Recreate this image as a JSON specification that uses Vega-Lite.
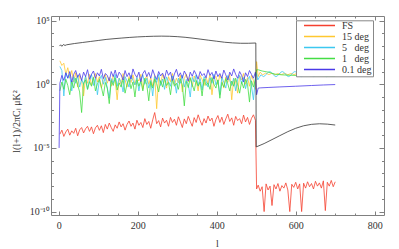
{
"$schema": "https://vega.github.io/schema/vega-lite/v6.json",
"width": 333, "height": 199,
"autosize": "none",
"padding": {"left": 51, "top": 16, "right": 15, "bottom": 34},
"background": "white",
"config": {
  "view": {"stroke": null},
  "font": "Liberation Serif",
  "axis": {"domainColor": "#808080", "domainWidth": 1, "tickColor": "#808080", "tickWidth": 1, "grid": false, "labelFont": "Liberation Serif", "labelFontSize": 10, "labelColor": "#333333", "titleFont": "Liberation Serif", "titleFontSize": 10, "titleColor": "#333333", "titleFontWeight": "normal", "labelFlush": false, "labelOverlap": false},
  "legend": {"labelFont": "Liberation Serif", "labelFontSize": 10, "labelColor": "#333333", "strokeColor": "#888888", "fillColor": "white", "padding": 1, "clipHeight": 8.6, "rowPadding": 0, "symbolOffset": 6, "labelOffset": 6, "symbolSize": 961}
},
"datasets": {
"blk": [{"l":2,"v":1000},{"l":5,"v":1260},{"l":8,"v":955},{"l":12,"v":1320},{"l":16,"v":1120},{"l":20,"v":1260},{"l":40,"v":1585},{"l":60,"v":1905},{"l":80,"v":2290},{"l":100,"v":2750},{"l":120,"v":3310},{"l":140,"v":3800},{"l":160,"v":4270},{"l":180,"v":4790},{"l":200,"v":5250},{"l":220,"v":5620},{"l":240,"v":5890},{"l":260,"v":6030},{"l":280,"v":5890},{"l":300,"v":5500},{"l":320,"v":4900},{"l":340,"v":4170},{"l":360,"v":3470},{"l":380,"v":2880},{"l":400,"v":2400},{"l":420,"v":2000},{"l":440,"v":1780},{"l":460,"v":1660},{"l":480,"v":1660},{"l":499,"v":1740},{"l":500,"v":1.2e-5},{"l":520,"v":2.2e-5},{"l":540,"v":4.5e-5},{"l":560,"v":9.3e-5},{"l":580,"v":1.9e-4},{"l":600,"v":3.5e-4},{"l":620,"v":5.5e-4},{"l":640,"v":7.1e-4},{"l":660,"v":7.9e-4},{"l":680,"v":7.4e-4},{"l":700,"v":6.3e-4}],
"fs": [{"l":3,"FS":1.2e-4},{"l":8,"FS":2.5e-4},{"l":13,"FS":8e-5},{"l":18,"FS":1.8e-4},{"l":23,"FS":3e-4},{"l":28,"FS":1e-4},{"l":33,"FS":2.2e-4},{"l":38,"FS":1.4e-4},{"l":43,"FS":3.5e-4},{"l":48,"FS":9e-5},{"l":53,"FS":2.6e-4},{"l":58,"FS":4e-4},{"l":63,"FS":1.5e-4},{"l":68,"FS":3.2e-4},{"l":73,"FS":5e-4},{"l":78,"FS":2e-4},{"l":83,"FS":4.5e-4},{"l":88,"FS":1.3e-4},{"l":93,"FS":3.8e-4},{"l":98,"FS":6e-4},{"l":103,"FS":2.4e-4},{"l":108,"FS":5.5e-4},{"l":113,"FS":1.6e-4},{"l":118,"FS":7e-4},{"l":123,"FS":3e-4},{"l":128,"FS":9e-4},{"l":133,"FS":4e-4},{"l":138,"FS":2e-4},{"l":143,"FS":6.5e-4},{"l":148,"FS":3.5e-4},{"l":153,"FS":1.1e-3},{"l":158,"FS":4.5e-4},{"l":163,"FS":8e-4},{"l":168,"FS":2.5e-4},{"l":173,"FS":7e-4},{"l":178,"FS":1.3e-3},{"l":183,"FS":5e-4},{"l":188,"FS":9e-4},{"l":193,"FS":3e-4},{"l":198,"FS":1.5e-3},{"l":203,"FS":6e-4},{"l":208,"FS":1e-3},{"l":213,"FS":4e-4},{"l":218,"FS":2e-3},{"l":223,"FS":7e-4},{"l":228,"FS":1.2e-3},{"l":233,"FS":3.5e-4},{"l":238,"FS":1.6e-3},{"l":243,"FS":6e-3},{"l":248,"FS":8e-4},{"l":253,"FS":1.4e-3},{"l":258,"FS":4.5e-4},{"l":263,"FS":2.2e-3},{"l":268,"FS":9e-4},{"l":273,"FS":1.5e-3},{"l":278,"FS":5e-4},{"l":283,"FS":2.5e-3},{"l":288,"FS":1e-3},{"l":293,"FS":1.8e-3},{"l":298,"FS":6e-4},{"l":303,"FS":2.8e-3},{"l":308,"FS":1.1e-3},{"l":313,"FS":4e-4},{"l":318,"FS":1.9e-3},{"l":323,"FS":8e-4},{"l":328,"FS":3e-3},{"l":333,"FS":1.2e-3},{"l":338,"FS":5e-4},{"l":343,"FS":2.4e-3},{"l":348,"FS":1e-3},{"l":353,"FS":4e-3},{"l":358,"FS":1.4e-3},{"l":363,"FS":6e-4},{"l":368,"FS":2e-3},{"l":373,"FS":9e-4},{"l":378,"FS":3.2e-3},{"l":383,"FS":1.3e-3},{"l":388,"FS":2.2e-3},{"l":393,"FS":5e-4},{"l":398,"FS":1.7e-3},{"l":403,"FS":3.5e-3},{"l":408,"FS":1e-3},{"l":413,"FS":2.6e-3},{"l":418,"FS":7e-4},{"l":423,"FS":1.9e-3},{"l":428,"FS":4.5e-3},{"l":433,"FS":1.2e-3},{"l":438,"FS":2.3e-3},{"l":443,"FS":6e-4},{"l":448,"FS":3e-3},{"l":453,"FS":1.4e-3},{"l":458,"FS":2e-3},{"l":463,"FS":8e-4},{"l":468,"FS":3.8e-3},{"l":473,"FS":1.1e-3},{"l":478,"FS":2.5e-3},{"l":483,"FS":7e-4},{"l":488,"FS":2.1e-3},{"l":493,"FS":4e-3},{"l":498,"FS":1.5e-3},{"l":501,"FS":6e-9},{"l":505,"FS":1.2e-8},{"l":510,"FS":4e-9},{"l":515,"FS":9e-9},{"l":520,"FS":1e-10},{"l":525,"FS":1.5e-8},{"l":530,"FS":5e-9},{"l":535,"FS":1e-8},{"l":540,"FS":3e-10},{"l":545,"FS":1.3e-8},{"l":550,"FS":6e-9},{"l":555,"FS":1.6e-8},{"l":560,"FS":4e-9},{"l":565,"FS":1.1e-8},{"l":570,"FS":7e-9},{"l":575,"FS":1.8e-8},{"l":580,"FS":5e-9},{"l":585,"FS":1e-10},{"l":590,"FS":1.4e-8},{"l":595,"FS":8e-9},{"l":600,"FS":2e-8},{"l":605,"FS":6e-9},{"l":610,"FS":1.5e-8},{"l":615,"FS":1e-10},{"l":620,"FS":1.7e-8},{"l":625,"FS":7e-9},{"l":630,"FS":2.2e-8},{"l":635,"FS":9e-9},{"l":640,"FS":1.6e-8},{"l":645,"FS":6e-9},{"l":650,"FS":2.4e-8},{"l":655,"FS":1e-8},{"l":660,"FS":1.8e-8},{"l":665,"FS":7e-9},{"l":670,"FS":2.6e-8},{"l":675,"FS":1.2e-10},{"l":680,"FS":2e-8},{"l":685,"FS":1e-8},{"l":690,"FS":2.8e-8},{"l":695,"FS":9e-9},{"l":700,"FS":2.2e-8}],
"d15": [{"l":3,"d15":70},{"l":8,"d15":30},{"l":13,"d15":45},{"l":18,"d15":6},{"l":23,"d15":20},{"l":28,"d15":3},{"l":33,"d15":12},{"l":38,"d15":1.5},{"l":43,"d15":8},{"l":48,"d15":0.6},{"l":53,"d15":5},{"l":58,"d15":2},{"l":63,"d15":0.12},{"l":68,"d15":4},{"l":73,"d15":1.2},{"l":78,"d15":6},{"l":83,"d15":0.8},{"l":88,"d15":3},{"l":93,"d15":7},{"l":98,"d15":1.5},{"l":103,"d15":4},{"l":108,"d15":0.5},{"l":113,"d15":2.5},{"l":118,"d15":6},{"l":123,"d15":1.2},{"l":128,"d15":3.5},{"l":133,"d15":0.7},{"l":138,"d15":5},{"l":143,"d15":2},{"l":148,"d15":0.06},{"l":153,"d15":3},{"l":158,"d15":1},{"l":163,"d15":7},{"l":168,"d15":2.2},{"l":173,"d15":0.6},{"l":178,"d15":4},{"l":183,"d15":1.4},{"l":188,"d15":5.5},{"l":193,"d15":0.9},{"l":198,"d15":3},{"l":203,"d15":1.8},{"l":208,"d15":6},{"l":213,"d15":0.4},{"l":218,"d15":2.5},{"l":223,"d15":4.5},{"l":228,"d15":1},{"l":233,"d15":3.2},{"l":238,"d15":0.7},{"l":243,"d15":5},{"l":248,"d15":0.012},{"l":253,"d15":3.5},{"l":258,"d15":1.2},{"l":263,"d15":6},{"l":268,"d15":2},{"l":273,"d15":0.5},{"l":278,"d15":4},{"l":283,"d15":1.6},{"l":288,"d15":7},{"l":293,"d15":0.9},{"l":298,"d15":3},{"l":303,"d15":1.3},{"l":308,"d15":5},{"l":313,"d15":0.25},{"l":318,"d15":2.8},{"l":323,"d15":6.5},{"l":328,"d15":1.5},{"l":333,"d15":3.6},{"l":338,"d15":0.6},{"l":343,"d15":4.5},{"l":348,"d15":1.8},{"l":353,"d15":0.3},{"l":358,"d15":5},{"l":363,"d15":2.4},{"l":368,"d15":0.8},{"l":373,"d15":3.5},{"l":378,"d15":1.2},{"l":383,"d15":6},{"l":388,"d15":0.15},{"l":393,"d15":2.6},{"l":398,"d15":4.2},{"l":403,"d15":1},{"l":408,"d15":5.5},{"l":413,"d15":2},{"l":418,"d15":0.5},{"l":423,"d15":3.8},{"l":428,"d15":1.4},{"l":433,"d15":6},{"l":438,"d15":0.06},{"l":443,"d15":3},{"l":448,"d15":1.6},{"l":453,"d15":0.2},{"l":458,"d15":4.6},{"l":463,"d15":2.2},{"l":468,"d15":7},{"l":473,"d15":1},{"l":478,"d15":3.4},{"l":483,"d15":0.7},{"l":488,"d15":5},{"l":493,"d15":2},{"l":498,"d15":0.4},{"l":501,"d15":60},{"l":505,"d15":4},{"l":510,"d15":9},{"l":516,"d15":5.5},{"l":524,"d15":7.5},{"l":532,"d15":5.8},{"l":540,"d15":7.2},{"l":548,"d15":5.6},{"l":556,"d15":7},{"l":564,"d15":5.8},{"l":572,"d15":7.2},{"l":580,"d15":5.6},{"l":588,"d15":7},{"l":596,"d15":5.8},{"l":604,"d15":7.3},{"l":612,"d15":5.7},{"l":620,"d15":7.2},{"l":628,"d15":6},{"l":636,"d15":7.5},{"l":644,"d15":6},{"l":652,"d15":7.8},{"l":660,"d15":6.4},{"l":668,"d15":8.2},{"l":676,"d15":7},{"l":684,"d15":9},{"l":692,"d15":8.5},{"l":700,"d15":10}],
"d5": [{"l":3,"d5":25},{"l":8,"d5":12},{"l":13,"d5":0.12},{"l":18,"d5":8},{"l":23,"d5":3},{"l":28,"d5":6},{"l":33,"d5":0.3},{"l":38,"d5":4},{"l":43,"d5":1.2},{"l":48,"d5":5},{"l":53,"d5":0.6},{"l":58,"d5":2.5},{"l":63,"d5":1},{"l":68,"d5":4.5},{"l":73,"d5":0.4},{"l":78,"d5":2},{"l":83,"d5":6},{"l":88,"d5":0.8},{"l":93,"d5":3},{"l":98,"d5":0.15},{"l":103,"d5":2.2},{"l":108,"d5":5},{"l":113,"d5":1},{"l":118,"d5":3.5},{"l":123,"d5":0.5},{"l":128,"d5":0.08},{"l":133,"d5":2.8},{"l":138,"d5":1.2},{"l":143,"d5":6},{"l":148,"d5":0.7},{"l":153,"d5":3},{"l":158,"d5":1.5},{"l":163,"d5":0.25},{"l":168,"d5":4},{"l":173,"d5":1.8},{"l":178,"d5":0.6},{"l":183,"d5":5},{"l":188,"d5":2},{"l":193,"d5":0.9},{"l":198,"d5":3.5},{"l":203,"d5":0.3},{"l":208,"d5":2.4},{"l":213,"d5":5.5},{"l":218,"d5":1},{"l":223,"d5":3},{"l":228,"d5":0.5},{"l":233,"d5":2},{"l":238,"d5":0.12},{"l":243,"d5":4},{"l":248,"d5":1.4},{"l":253,"d5":6},{"l":258,"d5":0.8},{"l":263,"d5":2.6},{"l":268,"d5":0.4},{"l":273,"d5":3.8},{"l":278,"d5":1.6},{"l":283,"d5":0.7},{"l":288,"d5":4.5},{"l":293,"d5":2},{"l":298,"d5":0.2},{"l":303,"d5":3},{"l":308,"d5":1.2},{"l":313,"d5":5},{"l":318,"d5":0.6},{"l":323,"d5":2.4},{"l":328,"d5":1},{"l":333,"d5":0.1},{"l":338,"d5":3.5},{"l":343,"d5":1.5},{"l":348,"d5":5.5},{"l":353,"d5":0.8},{"l":358,"d5":2.8},{"l":363,"d5":0.35},{"l":368,"d5":4},{"l":373,"d5":1.8},{"l":378,"d5":0.6},{"l":383,"d5":3.2},{"l":388,"d5":1.2},{"l":393,"d5":6},{"l":398,"d5":0.9},{"l":403,"d5":2.2},{"l":408,"d5":0.15},{"l":413,"d5":3.6},{"l":418,"d5":1.4},{"l":423,"d5":0.5},{"l":428,"d5":4.8},{"l":433,"d5":2},{"l":438,"d5":0.8},{"l":443,"d5":3},{"l":448,"d5":0.3},{"l":453,"d5":2.5},{"l":458,"d5":5},{"l":463,"d5":1.1},{"l":468,"d5":3.4},{"l":473,"d5":0.45},{"l":478,"d5":2.2},{"l":483,"d5":4.2},{"l":488,"d5":0.7},{"l":493,"d5":0.06},{"l":498,"d5":3},{"l":501,"d5":7},{"l":504,"d5":2.2},{"l":508,"d5":3.6},{"l":512,"d5":5.5},{"l":515,"d5":4.8},{"l":518,"d5":4},{"l":522,"d5":4.6},{"l":526,"d5":6.3},{"l":530,"d5":8.7},{"l":534,"d5":10},{"l":538,"d5":8.7},{"l":542,"d5":6.3},{"l":546,"d5":4.6},{"l":550,"d5":4},{"l":554,"d5":4.6},{"l":558,"d5":6.3},{"l":562,"d5":8.7},{"l":566,"d5":10},{"l":570,"d5":8.7},{"l":574,"d5":6.3},{"l":578,"d5":4.6},{"l":582,"d5":4},{"l":586,"d5":4.6},{"l":590,"d5":6.3},{"l":594,"d5":8.7},{"l":598,"d5":10},{"l":602,"d5":8.7},{"l":606,"d5":6.3},{"l":610,"d5":4.6},{"l":614,"d5":4},{"l":618,"d5":4.6},{"l":622,"d5":6.3},{"l":626,"d5":8.7},{"l":630,"d5":10},{"l":634,"d5":8.7},{"l":638,"d5":6.3},{"l":642,"d5":4.6},{"l":646,"d5":4},{"l":650,"d5":4.6},{"l":654,"d5":6.3},{"l":658,"d5":8.7},{"l":662,"d5":10},{"l":666,"d5":8.7},{"l":670,"d5":6.3},{"l":674,"d5":4.6},{"l":678,"d5":4},{"l":682,"d5":4.6},{"l":686,"d5":6.3},{"l":690,"d5":8.7},{"l":694,"d5":10},{"l":698,"d5":8.7},{"l":700,"d5":8}],
"d1": [{"l":3,"d1":0.3},{"l":8,"d1":1.5},{"l":13,"d1":0.4},{"l":18,"d1":2.5},{"l":23,"d1":0.8},{"l":28,"d1":0.15},{"l":33,"d1":1.8},{"l":38,"d1":0.5},{"l":43,"d1":3},{"l":48,"d1":0.9},{"l":53,"d1":0.25},{"l":58,"d1":0.006},{"l":63,"d1":1.2},{"l":68,"d1":2.2},{"l":73,"d1":0.4},{"l":78,"d1":1.6},{"l":83,"d1":0.7},{"l":88,"d1":3.5},{"l":93,"d1":0.3},{"l":98,"d1":1.1},{"l":103,"d1":2.4},{"l":108,"d1":0.6},{"l":113,"d1":0.12},{"l":118,"d1":1.4},{"l":123,"d1":0.5},{"l":128,"d1":0.03},{"l":133,"d1":2},{"l":138,"d1":0.8},{"l":143,"d1":3.2},{"l":148,"d1":0.35},{"l":153,"d1":1.3},{"l":158,"d1":0.6},{"l":163,"d1":2.6},{"l":168,"d1":0.2},{"l":173,"d1":1},{"l":178,"d1":2.8},{"l":183,"d1":0.45},{"l":188,"d1":1.5},{"l":193,"d1":0.1},{"l":198,"d1":2.2},{"l":203,"d1":0.7},{"l":208,"d1":1.8},{"l":213,"d1":0.3},{"l":218,"d1":3},{"l":223,"d1":0.9},{"l":228,"d1":0.05},{"l":233,"d1":1.6},{"l":238,"d1":0.5},{"l":243,"d1":2.5},{"l":248,"d1":1.1},{"l":253,"d1":0.25},{"l":258,"d1":1.9},{"l":263,"d1":0.6},{"l":268,"d1":3.2},{"l":273,"d1":0.8},{"l":278,"d1":1.4},{"l":283,"d1":0.15},{"l":288,"d1":2.4},{"l":293,"d1":0.7},{"l":298,"d1":1.2},{"l":303,"d1":0.4},{"l":308,"d1":2.7},{"l":313,"d1":0.9},{"l":318,"d1":0.02},{"l":323,"d1":1.7},{"l":328,"d1":0.55},{"l":333,"d1":3},{"l":338,"d1":1},{"l":343,"d1":0.3},{"l":348,"d1":2},{"l":353,"d1":0.7},{"l":358,"d1":1.5},{"l":363,"d1":0.12},{"l":368,"d1":2.6},{"l":373,"d1":0.8},{"l":378,"d1":1.3},{"l":383,"d1":0.4},{"l":388,"d1":3.4},{"l":393,"d1":1},{"l":398,"d1":0.5},{"l":403,"d1":2.2},{"l":408,"d1":0.08},{"l":413,"d1":1.4},{"l":418,"d1":0.6},{"l":423,"d1":2.8},{"l":428,"d1":1.1},{"l":433,"d1":0.3},{"l":438,"d1":1.8},{"l":443,"d1":0.7},{"l":448,"d1":3},{"l":453,"d1":0.9},{"l":458,"d1":0.2},{"l":463,"d1":1.6},{"l":468,"d1":0.5},{"l":473,"d1":2.4},{"l":478,"d1":1},{"l":483,"d1":0.04},{"l":488,"d1":1.9},{"l":493,"d1":0.6},{"l":498,"d1":2.5},{"l":501,"d1":14},{"l":506,"d1":13.5},{"l":515,"d1":11},{"l":531,"d1":8.9},{"l":548,"d1":6.2},{"l":565,"d1":5.5},{"l":585,"d1":5.1},{"l":607,"d1":4.9},{"l":630,"d1":4.7},{"l":650,"d1":4.6},{"l":675,"d1":4.3},{"l":700,"d1":4.1}],
"d01": [{"l":1,"d01":1e-5},{"l":3,"d01":1.2},{"l":8,"d01":5},{"l":13,"d01":2},{"l":18,"d01":8},{"l":23,"d01":3},{"l":28,"d01":10},{"l":33,"d01":1.5},{"l":38,"d01":6},{"l":43,"d01":12},{"l":48,"d01":3.5},{"l":53,"d01":7},{"l":58,"d01":2},{"l":63,"d01":9},{"l":68,"d01":4},{"l":73,"d01":14},{"l":78,"d01":2.5},{"l":83,"d01":6},{"l":88,"d01":11},{"l":93,"d01":3},{"l":98,"d01":8},{"l":103,"d01":4.5},{"l":108,"d01":15},{"l":113,"d01":2.8},{"l":118,"d01":7},{"l":123,"d01":5},{"l":128,"d01":1.8},{"l":133,"d01":10},{"l":138,"d01":4},{"l":143,"d01":13},{"l":148,"d01":3.2},{"l":153,"d01":9},{"l":158,"d01":5.5},{"l":163,"d01":2.2},{"l":168,"d01":12},{"l":173,"d01":4},{"l":178,"d01":8},{"l":183,"d01":2.6},{"l":188,"d01":16},{"l":193,"d01":6},{"l":198,"d01":3.5},{"l":203,"d01":9},{"l":208,"d01":1.6},{"l":213,"d01":7},{"l":218,"d01":12},{"l":223,"d01":4},{"l":228,"d01":8.5},{"l":233,"d01":3},{"l":238,"d01":14},{"l":243,"d01":5},{"l":248,"d01":2.4},{"l":253,"d01":10},{"l":258,"d01":4.5},{"l":263,"d01":7.5},{"l":268,"d01":2.8},{"l":273,"d01":13},{"l":278,"d01":5},{"l":283,"d01":9},{"l":288,"d01":2},{"l":293,"d01":6.5},{"l":298,"d01":15},{"l":303,"d01":4},{"l":308,"d01":8},{"l":313,"d01":3},{"l":318,"d01":11},{"l":323,"d01":5.5},{"l":328,"d01":1.8},{"l":333,"d01":9},{"l":338,"d01":4.2},{"l":343,"d01":12},{"l":348,"d01":6},{"l":353,"d01":2.5},{"l":358,"d01":10},{"l":363,"d01":4.8},{"l":368,"d01":7},{"l":373,"d01":3.2},{"l":378,"d01":14},{"l":383,"d01":5},{"l":388,"d01":8.5},{"l":393,"d01":2.6},{"l":398,"d01":11},{"l":403,"d01":4},{"l":408,"d01":7},{"l":413,"d01":3},{"l":418,"d01":13},{"l":423,"d01":5.5},{"l":428,"d01":2.2},{"l":433,"d01":9},{"l":438,"d01":4.5},{"l":443,"d01":16},{"l":448,"d01":6},{"l":453,"d01":3},{"l":458,"d01":10},{"l":463,"d01":5},{"l":468,"d01":1.5},{"l":473,"d01":8},{"l":478,"d01":4},{"l":483,"d01":12},{"l":488,"d01":6},{"l":493,"d01":3},{"l":498,"d01":9},{"l":501,"d01":0.15},{"l":505,"d01":0.5},{"l":510,"d01":0.52},{"l":530,"d01":0.56},{"l":560,"d01":0.62},{"l":600,"d01":0.7},{"l":640,"d01":0.8},{"l":670,"d01":0.88},{"l":700,"d01":0.95}]
},
"layer": [
  {
    "data": {"name": "fs"},
    "transform": [{"fold": ["FS"], "as": ["s", "v"]}],
    "mark": {"type": "line", "strokeWidth": 0.8, "clip": true},
    "encoding": {
      "x": {"field": "l", "type": "quantitative",
        "scale": {"type": "linear", "domain": [-19.5, 823.5], "nice": false, "zero": false},
        "axis": {"orient": "bottom", "values": [0,50,100,150,200,250,300,350,400,450,500,550,600,650,700,750,800], "tickSize": -2, "labels": false, "domain": false, "title": null}},
      "y": {"field": "v", "type": "quantitative",
        "scale": {"type": "log", "domain": [5.4e-11, 2.3e5], "nice": false},
        "axis": {"orient": "left", "values": [1e-10,1e-9,1e-8,1e-7,1e-6,1e-5,1e-4,1e-3,0.01,0.1,1,10,100,1000,10000,100000], "tickSize": -2.5, "labels": false, "domain": false, "title": null}},
      "color": {"field": "s", "type": "nominal",
        "scale": {"domain": ["FS", "d15", "d5", "d1", "d01"], "range": ["#f5402f", "#ffc830", "#3cc8f0", "#44dd44", "#4a3ae8"]},
        "legend": {"orient": "none", "legendX": 245, "legendY": 4.3, "direction": "vertical", "title": null,
          "labelExpr": "datum.label == 'd15' ? '15 deg' : datum.label == 'd5' ? '5\u00a0\u00a0\u00a0deg' : datum.label == 'd1' ? '1\u00a0\u00a0\u00a0deg' : datum.label == 'd01' ? '0.1 deg\u00a0' : datum.label"}}
    }
  },
  {
    "data": {"name": "d15"},
    "transform": [{"fold": ["d15"], "as": ["s", "v"]}],
    "mark": {"type": "line", "strokeWidth": 0.8, "clip": true},
    "encoding": {
      "x": {"field": "l", "type": "quantitative",
        "axis": {"orient": "top", "values": [0, 200, 400, 600, 800], "tickSize": -4, "labels": false, "title": null}},
      "y": {"field": "v", "type": "quantitative",
        "axis": {"orient": "right", "values": [1e-10, 1e-5, 1, 1e5], "tickSize": -5, "labels": false, "title": null}},
      "color": {"field": "s", "type": "nominal"}
    }
  },
  {
    "data": {"name": "d5"},
    "transform": [{"fold": ["d5"], "as": ["s", "v"]}],
    "mark": {"type": "line", "strokeWidth": 0.8, "clip": true},
    "encoding": {
      "x": {"field": "l", "type": "quantitative",
        "axis": {"orient": "top", "values": [0,50,100,150,200,250,300,350,400,450,500,550,600,650,700,750,800], "tickSize": -2, "labels": false, "domain": false, "title": null}},
      "y": {"field": "v", "type": "quantitative",
        "axis": {"orient": "right", "values": [1e-10,1e-9,1e-8,1e-7,1e-6,1e-5,1e-4,1e-3,0.01,0.1,1,10,100,1000,10000,100000], "tickSize": -2.5, "labels": false, "domain": false, "title": null}},
      "color": {"field": "s", "type": "nominal"}
    }
  },
  {
    "data": {"name": "d1"},
    "transform": [{"fold": ["d1"], "as": ["s", "v"]}],
    "mark": {"type": "line", "strokeWidth": 0.8, "clip": true},
    "encoding": {
      "x": {"field": "l", "type": "quantitative", "axis": null},
      "y": {"field": "v", "type": "quantitative", "axis": null},
      "color": {"field": "s", "type": "nominal"}
    }
  },
  {
    "data": {"name": "d01"},
    "transform": [{"fold": ["d01"], "as": ["s", "v"]}],
    "mark": {"type": "line", "strokeWidth": 0.8, "clip": true},
    "encoding": {
      "x": {"field": "l", "type": "quantitative", "axis": null},
      "y": {"field": "v", "type": "quantitative", "axis": null},
      "color": {"field": "s", "type": "nominal"}
    }
  },
  {
    "data": {"name": "blk"},
    "mark": {"type": "line", "stroke": "#333333", "strokeWidth": 0.8, "clip": true},
    "encoding": {
      "x": {"field": "l", "type": "quantitative",
        "axis": {"orient": "bottom", "values": [0, 200, 400, 600, 800], "tickSize": -4, "labelPadding": 9.4, "title": "l", "titleX": 166, "titleY": 28, "titleBaseline": "middle"}},
      "y": {"field": "v", "type": "quantitative",
        "axis": {"orient": "left", "values": [1e-10, 1e-5, 1, 1e5], "tickSize": -5, "labelPadding": 6.7,
          "labelExpr": "datum.value >= 1e4 ? '10⁵' : datum.value >= 0.5 ? '10⁰' : datum.value >= 1e-6 ? '10⁻⁵' : '10⁻¹⁰'",
          "title": "l(l+1)/2πCₗ μK²", "titleX": -35, "titleY": 105, "titleBaseline": "middle", "titleAngle": -90}}
    }
  }
],
"resolve": {"axis": {"x": "independent", "y": "independent"}}
}
